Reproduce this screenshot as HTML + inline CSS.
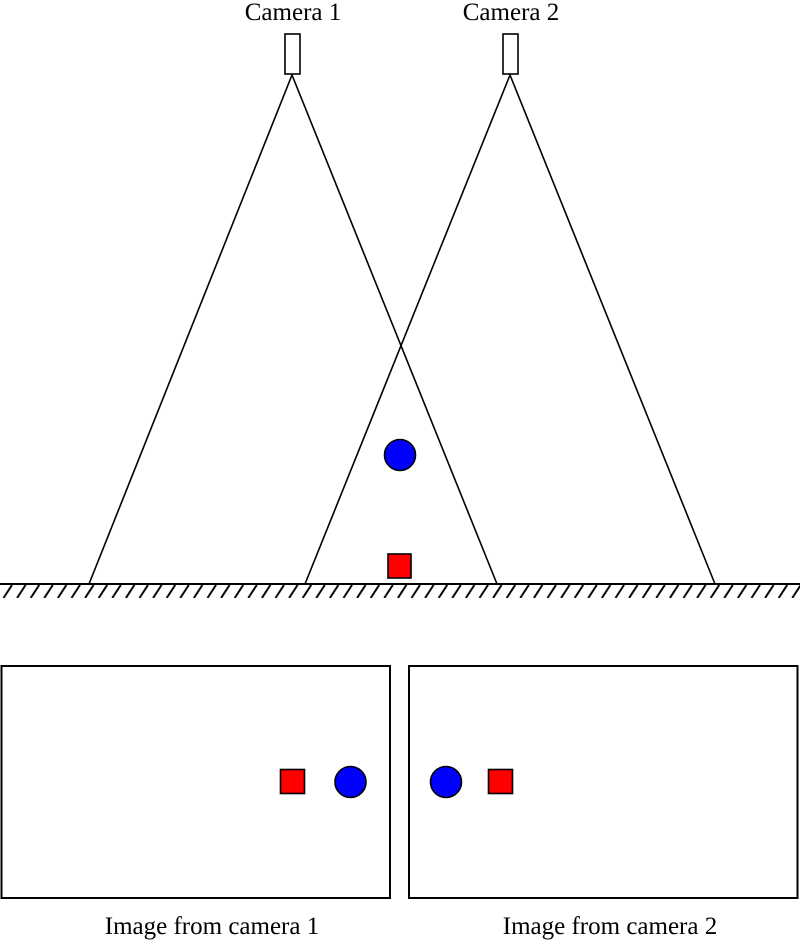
<!DOCTYPE html>
<html><head><meta charset="utf-8"><style>
html,body{margin:0;padding:0;background:#fff;}
svg{display:block;}
text{font-family:"Liberation Serif",serif;font-size:25px;fill:#000;}
</style></head><body>
<svg width="800" height="941" viewBox="0 0 800 941">
<defs>
<pattern id="h" x="0" y="585" width="13.6" height="14" patternUnits="userSpaceOnUse">
<line x1="12" y1="0" x2="3.5" y2="13" stroke="#000" stroke-width="2"/>
</pattern>
</defs>
<text x="293" y="20" text-anchor="middle">Camera 1</text>
<text x="511" y="20" text-anchor="middle">Camera 2</text>
<rect x="285" y="34" width="15" height="40" fill="#fff" stroke="#000" stroke-width="1.6"/>
<rect x="503" y="34" width="15" height="40" fill="#fff" stroke="#000" stroke-width="1.6"/>
<g stroke="#000" stroke-width="1.6" fill="none">
<polyline points="89,584 292,75 497,584"/>
<polyline points="305,584 510,75 715,584"/>
<line x1="0" y1="584" x2="800" y2="584" stroke-width="2"/>
</g>
<rect x="0" y="585" width="800" height="13" fill="url(#h)"/>
<circle cx="400" cy="455" r="15.5" fill="#00f" stroke="#000" stroke-width="1.6"/>
<rect x="388" y="554" width="23" height="24" fill="#f00" stroke="#000" stroke-width="1.6"/>
<rect x="1.5" y="666" width="388.5" height="232" fill="#fff" stroke="#000" stroke-width="2"/>
<rect x="409" y="666" width="388.5" height="232" fill="#fff" stroke="#000" stroke-width="2"/>
<rect x="280.5" y="769.5" width="24" height="24" fill="#f00" stroke="#000" stroke-width="1.6"/>
<circle cx="350.5" cy="782" r="15.5" fill="#00f" stroke="#000" stroke-width="1.6"/>
<circle cx="446" cy="782" r="15.5" fill="#00f" stroke="#000" stroke-width="1.6"/>
<rect x="488.5" y="769.5" width="24" height="24" fill="#f00" stroke="#000" stroke-width="1.6"/>
<text x="212" y="934" text-anchor="middle">Image from camera 1</text>
<text x="610" y="934" text-anchor="middle">Image from camera 2</text>
</svg>
</body></html>
